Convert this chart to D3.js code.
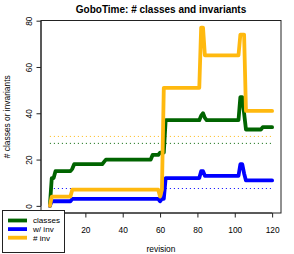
<!DOCTYPE html>
<html>
<head>
<meta charset="utf-8">
<script src="https://d3js.org/d3.v7.min.js"></script>
<style>
    body { margin: 0; background: #fff; }
    text { font-family: "Liberation Sans", Arial, sans-serif; fill: #000; }
</style>
</head>
<body>
<script>
var w = 294;
var h = 254;

//Plot box edges (not "top": that name is taken by window.top)
var boxLeft = 41, boxRight = 281, boxTop = 20.5, boxBottom = 213;

//Series as [revision, value] points
var classes = [[1, 0], [2, 12], [3, 12], [4, 15], [12, 15], [13, 16], [14, 18], [29, 18], [30, 19], [31, 20],
    [55, 20], [56, 22], [59, 22], [60, 23], [62, 23], [63, 37], [81, 37], [82, 39], [83, 40], [84, 38],
    [85, 37], [102, 37], [103, 47], [104, 47], [105, 40], [106, 33], [114, 33], [115, 34], [120, 34]];
var withInv = [[1, 0], [2, 2], [12, 2], [13, 3], [59, 3], [60, 2], [61, 3], [62, 3], [63, 12], [81, 12],
    [82, 15], [83, 15], [84, 13], [102, 13], [103, 18], [104, 18], [105, 14], [106, 11], [120, 11]];
var numInv = [[1, 0], [2, 4], [12, 4], [13, 7], [59, 7], [60, 4], [61, 7], [62, 51], [81, 51], [82, 77],
    [83, 77], [84, 65], [102, 65], [103, 74], [104, 74], [105, 74], [106, 41], [120, 41]];

//Dotted reference levels (same order as the series)
var averages = [27, 7.5, 30];
var avgRange = [1, 120];

var seriesNames = ["classes", "w/ inv", "# inv"];
var colors = ["#006400", "#0000ff", "#ffb90f"];
//the 0 tick on x sits under the legend, so only the visible ones get labels
var xAxisStart = 0;
var xTicks = [20, 40, 60, 80, 100, 120];
var yTicks = [0, 20, 40, 60, 80];

var allSeries = [classes, withInv, numInv];

//R style axis range: data extent plus 4% each side
var xExt = [1, 120];
var yExt = [0, d3.max(allSeries, function (s) { return d3.max(s, function (d) { return d[1]; }); })];
var xPad = (xExt[1] - xExt[0]) * 0.04;
var yPad = (yExt[1] - yExt[0]) * 0.04;

var xScale = d3.scaleLinear()
    .domain([xExt[0] - xPad, xExt[1] + xPad])
    .range([boxLeft, boxRight]);

var yScale = d3.scaleLinear()
    .domain([yExt[0] - yPad, yExt[1] + yPad])
    .range([boxBottom, boxTop]);

var svg = d3.select("body")
    .append("svg")
    .attr("width", w)
    .attr("height", h);

//Dotted average lines
svg.selectAll("line.avg")
    .data(averages)
    .enter()
    .append("line")
    .attr("class", "avg")
    .attr("x1", xScale(avgRange[0]))
    .attr("x2", xScale(avgRange[1]))
    .attr("y1", function (d) { return yScale(d); })
    .attr("y2", function (d) { return yScale(d); })
    .attr("stroke", function (d, i) { return colors[i]; })
    .attr("stroke-width", 1)
    .attr("stroke-dasharray", "1,3");

var line = d3.line()
    .x(function (d) { return xScale(d[0]); })
    .y(function (d) { return yScale(d[1]); });

//Series lines, classes first so # inv ends on top
svg.selectAll("path.series")
    .data(allSeries)
    .enter()
    .append("path")
    .attr("class", "series")
    .attr("d", line)
    .attr("fill", "none")
    .attr("stroke", function (d, i) { return colors[i]; })
    .attr("stroke-width", 3.8)
    .attr("stroke-linejoin", "round")
    .attr("stroke-linecap", "round");

//Plot box
svg.append("rect")
    .attr("x", boxLeft)
    .attr("y", boxTop)
    .attr("width", boxRight - boxLeft)
    .attr("height", boxBottom - boxTop)
    .attr("fill", "none")
    .attr("stroke", "#222")
    .attr("stroke-width", 1);

//Axes
var xaxis = d3.axisBottom(xScale)
    .tickValues(xTicks)
    .tickSize(4.5)
    .tickSizeOuter(0);

var gx = svg.append("g")
    .attr("transform", "translate(0," + boxBottom + ")")
    .call(xaxis);
gx.select(".domain")
    .attr("d", "M" + xScale(xAxisStart) + ",0H" + xScale(xTicks[xTicks.length - 1]))
    .attr("stroke", "#222");
gx.selectAll(".tick line").attr("stroke", "#222");
gx.selectAll(".tick text")
    .attr("font-size", "8.4px")
    .attr("dy", null)
    .attr("y", 19.5);

var yaxis = d3.axisLeft(yScale)
    .tickValues(yTicks)
    .tickSize(4.5)
    .tickSizeOuter(0);

var gy = svg.append("g")
    .attr("transform", "translate(" + boxLeft + ",0)")
    .call(yaxis);
gy.select(".domain")
    .attr("d", "M0," + yScale(yTicks[0]) + "V" + yScale(yTicks[yTicks.length - 1]))
    .attr("stroke", "#222");
gy.selectAll(".tick line").attr("stroke", "#222");
//rotated tick labels, like R's default las=0
gy.selectAll(".tick text")
    .attr("font-size", "8.4px")
    .attr("x", 0)
    .attr("y", 0)
    .attr("dy", null)
    .attr("text-anchor", "middle")
    .attr("transform", "translate(-9,0) rotate(-90)");

//Title and axis labels
svg.append("text")
    .attr("x", (boxLeft + boxRight) / 2)
    .attr("y", 13.3)
    .attr("text-anchor", "middle")
    .attr("font-size", "10px")
    .attr("font-weight", "bold")
    .text("GoboTime: # classes and invariants");

svg.append("text")
    .attr("x", (boxLeft + boxRight) / 2)
    .attr("y", 251.5)
    .attr("text-anchor", "middle")
    .attr("font-size", "8.4px")
    .text("revision");

svg.append("text")
    .attr("transform", "translate(9.5," + (boxTop + boxBottom) / 2 + ") rotate(-90)")
    .attr("text-anchor", "middle")
    .attr("font-size", "8.4px")
    .text("# classes or invariants");

//Legend, bottom left over the axis
var legend = svg.append("g");

legend.append("rect")
    .attr("x", 2.5)
    .attr("y", 210.5)
    .attr("width", 62)
    .attr("height", 42)
    .attr("fill", "#fff")
    .attr("stroke", "#222")
    .attr("stroke-width", 1);

var rows = legend.selectAll("g.row")
    .data(seriesNames)
    .enter()
    .append("g")
    .attr("class", "row")
    .attr("transform", function (d, i) { return "translate(0," + (220.5 + i * 8.6) + ")"; });

rows.append("line")
    .attr("x1", 8)
    .attr("x2", 27)
    .attr("stroke", function (d, i) { return colors[i]; })
    .attr("stroke-width", 3.8);

rows.append("text")
    .attr("x", 33)
    .attr("dy", "0.35em")
    .attr("font-size", "8.1px")
    .text(function (d) { return d; });
</script>
</body>
</html>
